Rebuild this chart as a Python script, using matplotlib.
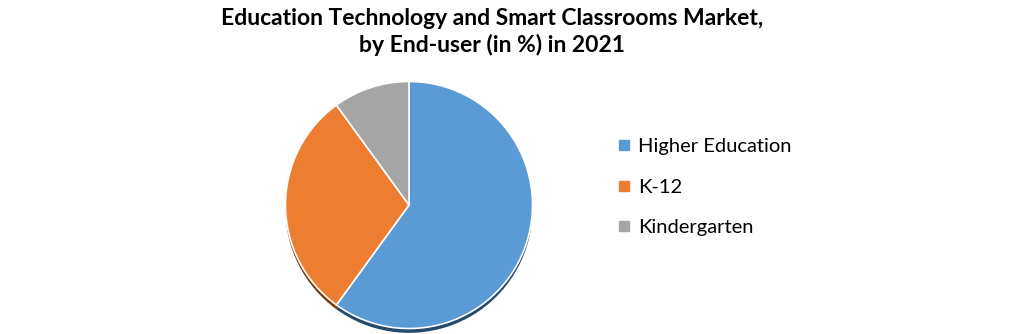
import matplotlib.pyplot as plt
from matplotlib.lines import Line2D

# market share by end-user, 2021 (%)
labels = ["Higher Education", "K-12", "Kindergarten"]
shares = [60, 30, 10]
colors = ["#5B9BD5", "#ED7D31", "#A5A5A5"]
shadow_colors = ["#264A6B", "#7A3A10", "#555555"]

plt.rcParams['font.family'] = ['Lato', 'DejaVu Sans']

fig = plt.figure(figsize=(10.16, 3.34), dpi=100)
ax = fig.add_axes([(409 - 126) / 1016, (334 - 205 - 126) / 334, 252 / 1016, 252 / 334])

# shadow underneath, shifted down a little
ax.pie(shares, colors=shadow_colors, startangle=90, counterclock=False,
       radius=1.0, center=(0.0, -0.035))
ax.pie(shares, colors=colors, startangle=90, counterclock=False, radius=1.0,
       wedgeprops=dict(edgecolor="white", linewidth=1.2))
ax.set_xlim(-1.02, 1.02)
ax.set_ylim(-1.02, 1.02)
ax.set_aspect("equal")

fig.text(0.484, 0.975, "Education Technology and Smart Classrooms Market,\nby End-user (in %) in 2021",
         ha="center", va="top", fontsize=16.5, fontweight="bold", linespacing=1.25)

handles = [Line2D([], [], marker="s", linestyle="", markersize=7,
                  markerfacecolor=c, markeredgecolor=c) for c in colors]
fig.legend(handles, labels, loc="center left", bbox_to_anchor=(0.586, 0.44),
           frameon=False, fontsize=14.5, handletextpad=0.2, labelspacing=1.15,
           handlelength=1.0)

fig.savefig("out.png", dpi=100)
